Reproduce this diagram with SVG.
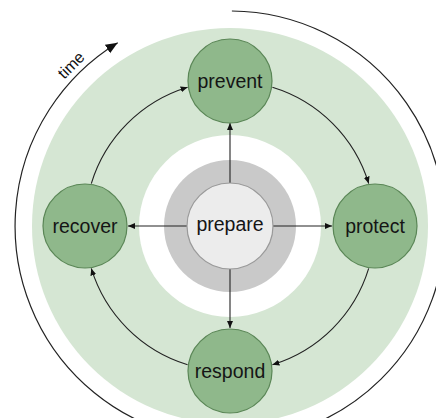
<svg xmlns="http://www.w3.org/2000/svg" width="436" height="418" viewBox="0 0 436 418">
<style>
.node{fill:#8fb88b;stroke:#5a8656;stroke-width:1.2}
.lbl{font-family:"Liberation Sans",Arial,sans-serif;font-size:19.5px;fill:#151515;text-anchor:middle}
.con{fill:none;stroke:#222;stroke-width:1.1}
</style>
<defs>
<marker id="ah" markerUnits="userSpaceOnUse" markerWidth="8" markerHeight="8" refX="7" refY="3" orient="auto">
<path d="M0,0 L7,3 L0,6 z" fill="#111"/>
</marker>
<marker id="big" markerUnits="userSpaceOnUse" markerWidth="14" markerHeight="12" refX="12" refY="5" orient="auto">
<path d="M0,0 L12,5 L0,10 z" fill="#111"/>
</marker>
</defs>
<rect width="436" height="418" fill="#fff"/>
<g id="rings">
<circle cx="230" cy="226" r="198" fill="#d5e6d3"/>
<circle cx="230" cy="226" r="91" fill="#fff"/>
<circle cx="230" cy="226" r="66" fill="#c9c9c9"/>
</g>
<g id="time">
<path d="M231.9,11 A215,215 0 1 1 117.7,42.7" fill="none" stroke="#222" stroke-width="1.2" marker-end="url(#big)"/>
<text x="71" y="65" transform="rotate(-45 71 65)" dy="0.35em" style="font-family:'Liberation Sans',Arial,sans-serif;font-size:16px;fill:#111;text-anchor:middle">time</text>
</g>
<g id="connectors">
<path class="con" d="M230,183 L230,123" marker-end="url(#ah)"/>
<path class="con" d="M273,226 L332,226" marker-end="url(#ah)"/>
<path class="con" d="M187,226 L128,226" marker-end="url(#ah)"/>
<path class="con" d="M230,269 L230,328" marker-end="url(#ah)"/>
<path class="con" d="M272.4,87.3 A145,145 0 0 1 368.7,183.6" marker-end="url(#ah)"/>
<path class="con" d="M368.7,268.4 A145,145 0 0 1 272.4,364.7" marker-end="url(#ah)"/>
<path class="con" d="M187.6,364.7 A145,145 0 0 1 91.3,268.4" marker-end="url(#ah)"/>
<path class="con" d="M91.3,183.6 A145,145 0 0 1 187.6,87.3" marker-end="url(#ah)"/>
</g>
<g id="prepare">
<circle cx="230" cy="226" r="43" fill="#ececec" stroke="#9a9a9a" stroke-width="1.2"/>
<text class="lbl" x="230" y="231">prepare</text>
</g>
<g id="prevent">
<circle class="node" cx="230" cy="81" r="42"/>
<text class="lbl" x="230" y="87.5">prevent</text>
</g>
<g id="protect">
<circle class="node" cx="375" cy="226" r="42"/>
<text class="lbl" x="375" y="232.5">protect</text>
</g>
<g id="respond">
<circle class="node" cx="230" cy="371" r="42"/>
<text class="lbl" x="230" y="377.5">respond</text>
</g>
<g id="recover">
<circle class="node" cx="85" cy="226" r="42"/>
<text class="lbl" x="85" y="232.5">recover</text>
</g>
</svg>
